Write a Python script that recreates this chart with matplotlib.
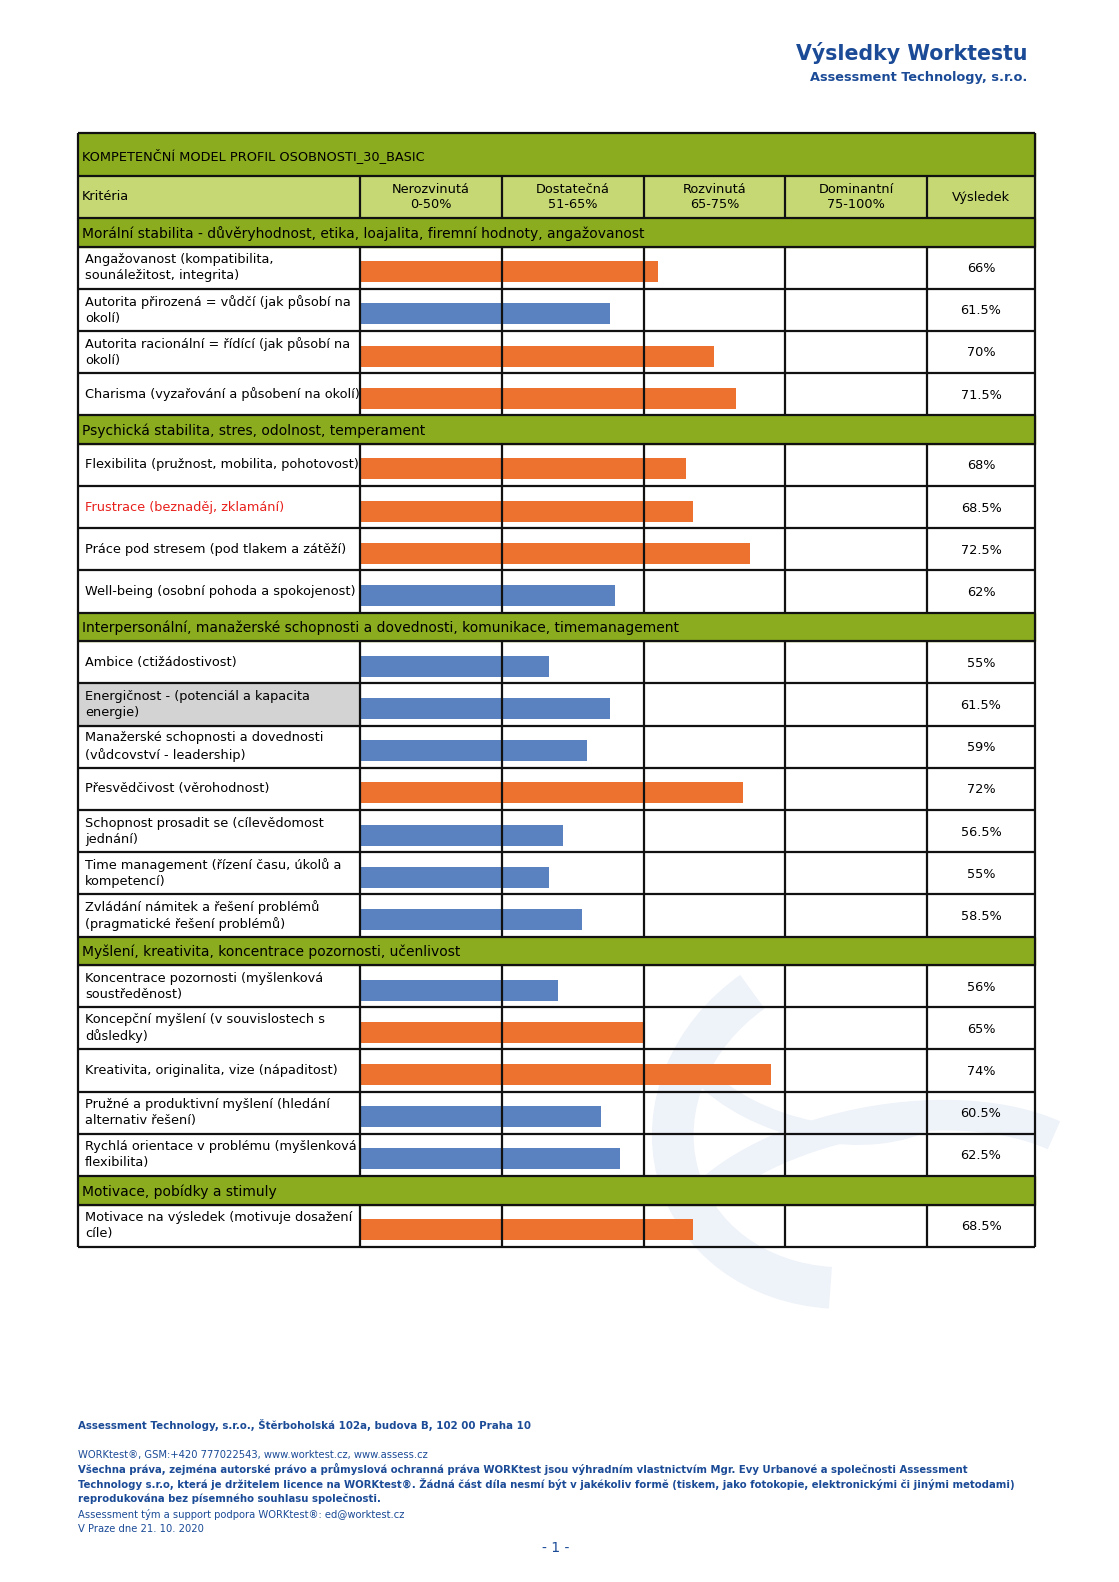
import numpy as np
import matplotlib
matplotlib.use('Agg')
import matplotlib.pyplot as plt
from matplotlib.patches import Rectangle, Arc

plt.rcParams['font.family'] = ['DejaVu Sans']

# ---- data ----
sections = [
    "Morální stabilita - důvěryhodnost, etika, loajalita, firemní hodnoty, angažovanost",
    "Psychická stabilita, stres, odolnost, temperament",
    "Interpersonální, manažerské schopnosti a dovednosti, komunikace, timemanagement",
    "Myšlení, kreativita, koncentrace pozornosti, učenlivost",
    "Motivace, pobídky a stimuly",
]
labels_1 = ["Angažovanost (kompatibilita,\nsounáležitost, integrita)",
            "Autorita přirozená = vůdčí (jak působí na\nokolí)",
            "Autorita racionální = řídící (jak působí na\nokolí)",
            "Charisma (vyzařování a působení na okolí)"]
values_1 = [66, 61.5, 70, 71.5]
labels_2 = ["Flexibilita (pružnost, mobilita, pohotovost)",
            "Frustrace (beznaděj, zklamání)",
            "Práce pod stresem (pod tlakem a zátěží)",
            "Well-being (osobní pohoda a spokojenost)"]
values_2 = [68, 68.5, 72.5, 62]
labels_3 = ["Ambice (ctižádostivost)",
            "Energičnost - (potenciál a kapacita\nenergie)",
            "Manažerské schopnosti a dovednosti\n(vůdcovství - leadership)",
            "Přesvědčivost (věrohodnost)",
            "Schopnost prosadit se (cílevědomost\njednání)",
            "Time management (řízení času, úkolů a\nkompetencí)",
            "Zvládání námitek a řešení problémů\n(pragmatické řešení problémů)"]
values_3 = [55, 61.5, 59, 72, 56.5, 55, 58.5]
labels_4 = ["Koncentrace pozornosti (myšlenková\nsoustředěnost)",
            "Koncepční myšlení (v souvislostech s\ndůsledky)",
            "Kreativita, originalita, vize (nápaditost)",
            "Pružné a produktivní myšlení (hledání\nalternativ řešení)",
            "Rychlá orientace v problému (myšlenková\nflexibilita)"]
values_4 = [56, 65, 74, 60.5, 62.5]
labels_5 = ["Motivace na výsledek (motivuje dosažení\ncíle)"]
values_5 = [68.5]

band_edges = [0, 50, 65, 75, 100]
band_names = ["Nerozvinutá\n0-50%", "Dostatečná\n51-65%", "Rozvinutá\n65-75%", "Dominantní\n75-100%"]
red_labels = ["Frustrace (beznaděj, zklamání)"]
grey_labels = ["Energičnost - (potenciál a kapacita\nenergie)"]

all_labels = [labels_1, labels_2, labels_3, labels_4, labels_5]
all_values = [values_1, values_2, values_3, values_4, values_5]

# ---- colours / layout (pixels) ----
W, H = 1119, 1582
dark_green = '#8aac1e'
light_green = '#c5d873'
orange = '#ed7230'
blue = '#5a82c1'
navy = '#1b4b97'
line_c = '#111111'
x_left, x_crit, x_bars, x_res, x_right = 78, 360, 360, 927, 1035
top = 133
title_h, head_h, sec_h, row_h = 43, 42, 28.5, 42.2

fig = plt.figure(figsize=(W / 100, H / 100), dpi=100)
bg = fig.add_axes([0, 0, 1, 1])
bg.set_xlim(0, W)
bg.set_ylim(H, 0)
bg.axis('off')

# faint watermark swooshes
for (cx, cy, w, h, ang, t1, t2, lw) in [(860, 1120, 380, 330, -20, 120, 250, 30),
                                        (890, 1230, 440, 220, -10, 200, 340, 22),
                                        (820, 1040, 300, 180, 15, 20, 150, 14)]:
    bg.add_patch(Arc((cx, cy), w, h, angle=ang, theta1=t1, theta2=t2,
                     color='#eef2f9', lw=lw, zorder=0))

# header of page
bg.text(1027, 53, "Výsledky Worktestu", ha='right', va='center', fontsize=14.8,
        fontweight='bold', color=navy)
bg.text(1027, 77, "Assessment Technology, s.r.o.", ha='right', va='center', fontsize=9.3,
        fontweight='bold', color=navy)

# bar axes with the banded (piecewise) scale
bx = fig.add_axes([x_bars / W, 0, (x_res - x_bars) / W, 1])
bx.set_ylim(H, 0)
band_pos = np.arange(len(band_edges))
bx.set_xscale('function', functions=(lambda v: np.interp(v, band_edges, band_pos),
                                     lambda p: np.interp(p, band_pos, band_edges)))
bx.set_xlim(0, 100)
bx.axis('off')
bx.patch.set_alpha(0)

# title row
y = top
bg.add_patch(Rectangle((x_left, y), x_right - x_left, title_h, color=dark_green, zorder=1))
bg.text(82, y + title_h / 2 + 1, "KOMPETENČNÍ MODEL PROFIL OSOBNOSTI_30_BASIC",
        va='center', fontsize=9.3, zorder=3)
h_lines = [y]
y += title_h
h_lines.append(y)

# column header row
bg.add_patch(Rectangle((x_left, y), x_right - x_left, head_h, color=light_green, zorder=1))
bg.text(82, y + head_h / 2, "Kritéria", va='center', fontsize=9.3, zorder=3)
for i, name in enumerate(band_names):
    mid = np.interp((i + 0.5), band_pos, band_edges)
    bx.text(mid, y + head_h / 2, name, ha='center', va='center', fontsize=9.3,
            linespacing=1.15, zorder=3)
bg.text((x_res + x_right) / 2, y + head_h / 2, "Výsledek", ha='center', va='center',
        fontsize=9.3, zorder=3)
v_spans = [(y, y + head_h)]
y += head_h
h_lines.append(y)

for sec, labs, vals in zip(sections, all_labels, all_values):
    bg.add_patch(Rectangle((x_left, y), x_right - x_left, sec_h, color=dark_green, zorder=1))
    bg.text(82, y + sec_h / 2 + 1, sec, va='center', fontsize=10, zorder=3)
    y += sec_h
    h_lines.append(y)
    block_start = y
    for lab, val in zip(labs, vals):
        if lab in grey_labels:
            bg.add_patch(Rectangle((x_left, y), x_crit - x_left, row_h, color='#d3d3d3', zorder=1))
        bg.text(85, y + row_h / 2, lab, va='center', fontsize=9.3, linespacing=1.3,
                color='#e8201c' if lab in red_labels else 'black', zorder=3)
        bx.barh(y + row_h / 2 + 4, val, left=0, height=21,
                color=orange if val >= 65 else blue, zorder=2)
        bg.text((x_res + x_right) / 2, y + row_h / 2 + 1, f"{val:g}%", ha='center',
                va='center', fontsize=9.3, zorder=3)
        y += row_h
        h_lines.append(y)
    v_spans.append((block_start, y))

# grid lines
bg.hlines(h_lines, x_left, x_right, color=line_c, lw=1.6, zorder=4)
bg.vlines([x_left, x_right], top, y, color=line_c, lw=1.6, zorder=4)
for y0, y1 in v_spans:
    bx.vlines(band_edges, y0, y1, color=line_c, lw=1.6, zorder=4, clip_on=False)

# footer
bg.text(78, 1425, "Assessment Technology, s.r.o., Štěrboholská 102a, budova B, 102 00 Praha 10",
        va='center', fontsize=7.35, fontweight='bold', color=navy)
bg.text(78, 1455, "WORKtest®, GSM:+420 777022543, www.worktest.cz, www.assess.cz",
        va='center', fontsize=7.2, color=navy)
footer_bold = ["Všechna práva, zejména autorské právo a průmyslová ochranná práva WORKtest jsou výhradním vlastnictvím Mgr. Evy Urbanové a společnosti Assessment",
               "Technology s.r.o, která je držitelem licence na WORKtest®. Žádná část díla nesmí být v jakékoliv formě (tiskem, jako fotokopie, elektronickými či jinými metodami)",
               "reprodukována bez písemného souhlasu společnosti."]
for i, t in enumerate(footer_bold):
    bg.text(78, 1469 + i * 15, t, va='center', fontsize=7.25, fontweight='bold', color=navy)
bg.text(78, 1514, "Assessment tým a support podpora WORKtest®: ed@worktest.cz",
        va='center', fontsize=7.2, color=navy)
bg.text(78, 1529, "V Praze dne 21. 10. 2020", va='center', fontsize=7.2, color=navy)
bg.text(556, 1548, "- 1 -", ha='center', va='center', fontsize=10, color=navy)

fig.savefig('out.png', dpi=100)
